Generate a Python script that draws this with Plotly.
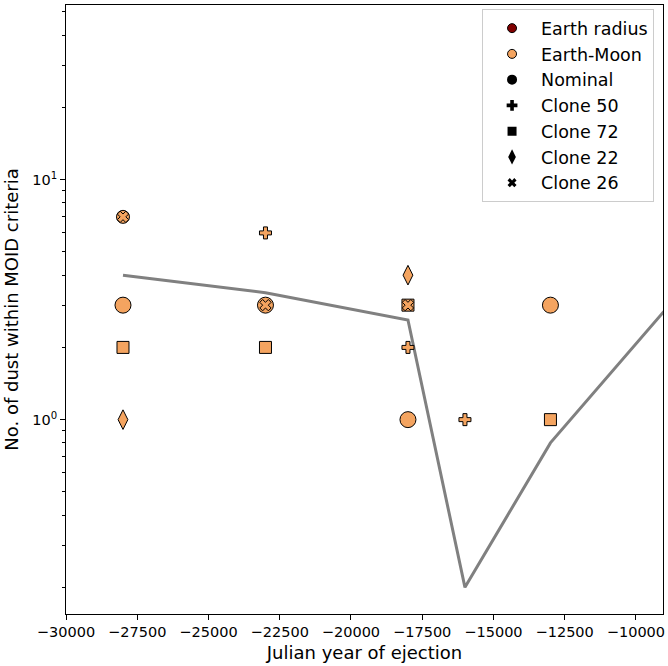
import plotly.graph_objects as go

# Ejection epochs (Julian year) and dust counts per orbit solution
nominal_x = [-28000, -28000, -23000, -18000, -13000]
nominal_y = [7, 3, 3, 1, 3]
clone50_x = [-23000, -18000, -16000]
clone50_y = [6, 2, 1]
clone72_x = [-28000, -23000, -18000, -13000]
clone72_y = [2, 2, 3, 1]
clone22_x = [-28000, -18000]
clone22_y = [1, 4]
clone26_x = [-28000, -23000, -18000]
clone26_y = [7, 3, 3]

# Mean trend across solutions
trend_x = [-28000, -23000, -18000, -16000, -13000, -8000]
trend_y = [4.0, 3.38, 2.6, 0.2, 0.8, 3.9]

y_major = [1, 10]
y_major_text = ["10<sup>0</sup>", "10<sup>1</sup>"]
y_minor = [0.2, 0.3, 0.4, 0.5, 0.6, 0.7, 0.8, 0.9,
           2, 3, 4, 5, 6, 7, 8, 9, 20, 30, 40, 50]
x_ticks = [-30000, -27500, -25000, -22500, -20000, -17500, -15000, -12500, -10000]

ORANGE = "#F4A460"
DARKRED = "#800000"
FONT = "DejaVu Sans"

fig = go.Figure()

fig.add_trace(go.Scatter(
    x=trend_x, y=trend_y, mode="lines",
    line=dict(color="#808080", width=3), showlegend=False, hoverinfo="skip"))

edge = dict(color="black", width=1)
fig.add_trace(go.Scatter(
    x=nominal_x, y=nominal_y, mode="markers", showlegend=False,
    marker=dict(symbol="circle", color=ORANGE, opacity=1,
                size=[13, 16, 16, 16, 16], line=edge)))
fig.add_trace(go.Scatter(
    x=clone50_x, y=clone50_y, mode="markers", showlegend=False,
    marker=dict(symbol="cross", color=ORANGE, size=10, line=edge)))
fig.add_trace(go.Scatter(
    x=clone72_x, y=clone72_y, mode="markers", showlegend=False,
    marker=dict(symbol="square", color=ORANGE, size=12, line=edge)))
fig.add_trace(go.Scatter(
    x=clone22_x, y=clone22_y, mode="markers", showlegend=False,
    marker=dict(symbol="diamond-tall", color=ORANGE, size=14, line=edge)))
fig.add_trace(go.Scatter(
    x=clone26_x, y=clone26_y, mode="markers", showlegend=False,
    marker=dict(symbol="x", color=ORANGE, size=10, line=edge)))

# Legend entries
legend_items = [
    ("Earth radius", "circle", DARKRED, 9),
    ("Earth-Moon", "circle", ORANGE, 9),
    ("Nominal", "circle", "black", 10),
    ("Clone 50", "cross", "black", 9),
    ("Clone 72", "square", "black", 9),
    ("Clone 22", "diamond-tall", "black", 11),
    ("Clone 26", "x", "black", 8),
]
for name, sym, col, sz in legend_items:
    fig.add_trace(go.Scatter(
        x=[None], y=[None], mode="markers", name=name,
        marker=dict(symbol=sym, color=col, size=sz,
                    line=dict(color="black", width=1 if col != "black" else 0))))

fig.update_layout(
    width=668, height=666,
    margin=dict(l=66, r=3, t=5, b=52),
    paper_bgcolor="white", plot_bgcolor="white",
    font=dict(family=FONT, size=14, color="black"),
    legend=dict(
        x=0.985, y=0.993, xanchor="right", yanchor="top",
        bgcolor="rgba(255,255,255,0.8)", bordercolor="#cccccc", borderwidth=1,
        font=dict(family=FONT, size=17.5), itemsizing="trace",
        itemwidth=48, tracegroupgap=0),
    xaxis=dict(
        range=[-30000, -9050], tickvals=x_ticks,
        ticktext=[f"\u2212{abs(v)}" for v in x_ticks],
        ticks="outside", ticklen=5, tickwidth=1, tickcolor="black",
        showline=True, linecolor="black", linewidth=1, mirror=True,
        showgrid=False, zeroline=False,
        tickfont=dict(size=14.5),
        title=dict(text="Julian year of ejection", font=dict(size=18), standoff=6)),
    yaxis=dict(
        type="log", range=[-0.81, 1.728],
        tickvals=y_major, ticktext=y_major_text,
        ticks="outside", ticklen=5, tickwidth=1, tickcolor="black",
        minor=dict(tickvals=y_minor, ticks="outside", ticklen=3,
                   tickcolor="black", tickwidth=1, showgrid=False),
        showline=True, linecolor="black", linewidth=1, mirror=True,
        showgrid=False, zeroline=False,
        tickfont=dict(size=14.5),
        title=dict(text="No. of dust within MOID criteria", font=dict(size=18), standoff=8)),
)

fig.write_html("out.html")
